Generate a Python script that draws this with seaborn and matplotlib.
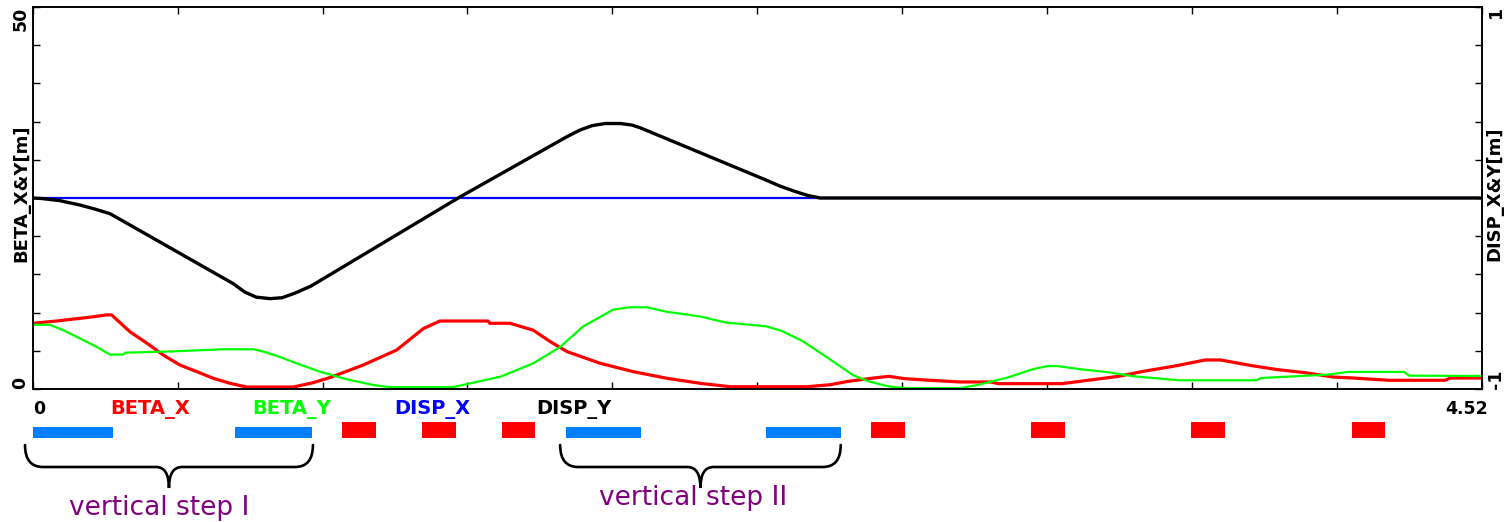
import numpy as np
import pandas as pd
import matplotlib
matplotlib.use("Agg")
import matplotlib.pyplot as plt
from matplotlib.path import Path
from matplotlib.patches import PathPatch
import matplotlib.transforms as mtransforms
import seaborn as sns

# ---------------- data ----------------
S_MAX = 4.52

beta_x_s = [0.0, 0.075, 0.116, 0.179, 0.231, 0.246, 0.303, 0.356, 0.407, 0.459,
            0.512, 0.563, 0.615, 0.667, 0.813, 0.875, 0.927, 1.031, 1.135, 1.218,
            1.270, 1.420, 1.426, 1.489, 1.561, 1.614, 1.666, 1.770, 1.873, 1.978,
            2.081, 2.175, 2.415, 2.487, 2.543, 2.623, 2.670, 2.718, 2.798, 2.892,
            2.988, 3.012, 3.210, 3.291, 3.386, 3.466, 3.561, 3.657, 3.705, 3.800,
            3.880, 3.975, 4.055, 4.118, 4.230, 4.405, 4.421, 4.52]
beta_x = [8.6, 8.9, 9.1, 9.4, 9.7, 9.7, 7.5, 6.0, 4.45, 3.14,
          2.27, 1.4, 0.75, 0.26, 0.26, 0.83, 1.5, 3.14, 5.1, 7.9,
          8.9, 8.9, 8.6, 8.6, 7.7, 6.2, 4.9, 3.36, 2.27, 1.4,
          0.75, 0.3, 0.3, 0.56, 1.0, 1.44, 1.66, 1.36, 1.14, 0.92,
          0.92, 0.7, 0.7, 1.14, 1.66, 2.33, 3.0, 3.8, 3.8, 3.07,
          2.55, 2.1, 1.57, 1.44, 1.14, 1.14, 1.44, 1.44]

beta_y_s = [0.0, 0.054, 0.095, 0.148, 0.200, 0.241, 0.283, 0.288, 0.439, 0.595,
            0.688, 0.719, 0.771, 0.823, 0.896, 0.979, 1.062, 1.114, 1.312, 1.354,
            1.458, 1.561, 1.645, 1.717, 1.811, 1.863, 1.915, 1.978, 2.081, 2.161,
            2.288, 2.336, 2.400, 2.479, 2.559, 2.607, 2.670, 2.718, 2.892, 2.941,
            3.036, 3.116, 3.164, 3.195, 3.275, 3.354, 3.434, 3.577, 3.816, 3.831,
            4.039, 4.103, 4.277, 4.293, 4.52]
beta_y = [8.4, 8.4, 7.7, 6.6, 5.5, 4.5, 4.5, 4.75, 4.93, 5.2,
          5.2, 4.9, 4.2, 3.36, 2.27, 1.27, 0.52, 0.25, 0.25, 0.65,
          1.6, 3.36, 5.5, 8.2, 10.4, 10.7, 10.7, 10.1, 9.5, 8.7,
          8.2, 7.6, 6.3, 4.1, 1.8, 1.0, 0.34, 0.12, 0.12, 0.47,
          1.44, 2.55, 3.0, 3.0, 2.55, 2.2, 1.66, 1.14, 1.14, 1.44,
          1.88, 2.24, 2.24, 1.75, 1.7]

disp_x_s = [0.0, 4.52]
disp_x = [0.0, 0.0]

disp_y_s = [0.0, 0.030, 0.085, 0.148, 0.194, 0.241, 0.625, 0.662, 0.697, 0.741,
            0.778, 0.818, 0.868, 1.333, 1.664, 1.707, 1.745, 1.786, 1.833, 1.869,
            1.897, 2.287, 2.331, 2.378, 2.418, 2.456, 4.52]
disp_y = [0.0, -0.003, -0.014, -0.037, -0.058, -0.082, -0.448, -0.493, -0.519, -0.527,
          -0.522, -0.498, -0.461, 0.006, 0.319, 0.356, 0.379, 0.390, 0.390, 0.382,
          0.366, 0.094, 0.062, 0.034, 0.013, 0.0, 0.0]

dipole_start = [0.0, 0.632, 1.663, 2.286]
dipole_end = [0.251, 0.870, 1.897, 2.521]
quad_start = [0.964, 1.213, 1.463, 2.616, 3.115, 3.614, 4.114]
quad_end = [1.070, 1.319, 1.568, 2.722, 3.221, 3.720, 4.218]

brace_left = [-0.024, 1.645]
brace_right = [0.874, 2.520]
group_labels = ["vertical step I", "vertical step II"]
group_label_s = [0.395, 2.060]

legend_labels = ["BETA_X", "BETA_Y", "DISP_X", "DISP_Y"]
legend_colors = ["#FF0000", "#00FF00", "#0000FF", "#000000"]

beta_ticks = list(range(0, 55, 5))
disp_ticks = list(np.round(np.linspace(-1, 1, 11), 2))

# ---------------- figure ----------------
sns.set_style("white")
plt.rcParams["font.family"] = ["DejaVu Sans"]
plt.rcParams["text.color"] = "black"

W_PX, H_PX = 1507, 522
fig = plt.figure(figsize=(W_PX / 100, H_PX / 100), dpi=100)

ax_l, ax_r, ax_t, ax_b = 32.7, 1482.0, 7.0, 389.0
ax = fig.add_axes([ax_l / W_PX, 1 - ax_b / H_PX, (ax_r - ax_l) / W_PX, (ax_b - ax_t) / H_PX])
ax2 = ax.twinx()

sns.lineplot(x=beta_x_s, y=beta_x, ax=ax, color="#FF0000", lw=2.3,
             estimator=None, sort=False)
sns.lineplot(x=beta_y_s, y=beta_y, ax=ax, color="#00FF00", lw=1.6,
             estimator=None, sort=False)
sns.lineplot(x=disp_x_s, y=disp_x, ax=ax2, color="#0000FF", lw=1.6,
             estimator=None, sort=False)
sns.lineplot(x=disp_y_s, y=disp_y, ax=ax2, color="#000000", lw=2.4,
             estimator=None, sort=False)

ax.set_xlim(0, S_MAX)
ax.set_ylim(0, 50)
ax2.set_ylim(-1, 1)
ax.set_xticks(np.linspace(0, S_MAX, 11))
ax.set_yticks(beta_ticks)
ax2.set_yticks(disp_ticks)
ax.tick_params(direction="in", length=5, width=1, colors="black",
               top=True, bottom=True, left=True, right=False,
               labelleft=False, labelbottom=False)
ax2.tick_params(direction="in", length=5, width=1, colors="black",
                right=True, labelright=False)
ax.set_xlabel("")
ax.set_ylabel("")
ax2.set_ylabel("")
for a in (ax, ax2):
    for sp in a.spines.values():
        sp.set_visible(True)
        sp.set_color("black")
        sp.set_linewidth(1.2)

# end tick labels (rotated)
lbl_kw = dict(fontsize=12.5, fontweight="bold", rotation=90, color="black")
fx_left = 20.5 / W_PX
fx_right = 1496.0 / W_PX
trl = mtransforms.blended_transform_factory(fig.transFigure, ax.transData)
trr = mtransforms.blended_transform_factory(fig.transFigure, ax2.transData)
ax.text(fx_left, 50, "50", transform=trl, ha="center", va="top", **lbl_kw)
ax.text(fx_left, 0, "0", transform=trl, ha="center", va="bottom", **lbl_kw)
ax2.text(fx_right, 1, "1", transform=trr, ha="center", va="top", **lbl_kw)
ax2.text(fx_right, -1, "-1", transform=trr, ha="center", va="bottom", **lbl_kw)

fig.text(21.5 / W_PX, 1 - 193 / H_PX, "BETA_X&Y[m]", rotation=90, ha="center",
         va="center", fontsize=13, fontweight="bold", color="black")
fig.text(1494.0 / W_PX, 1 - 194 / H_PX, "DISP_X&Y[m]", rotation=90, ha="center",
         va="center", fontsize=13, fontweight="bold", color="black")

# ---------------- element strip ----------------
strip_top = 390.0
st = fig.add_axes([ax_l / W_PX, 0, (ax_r - ax_l) / W_PX, (H_PX - strip_top) / H_PX])
st.set_xlim(0, S_MAX)
st.set_ylim(H_PX, strip_top)
st.axis("off")

dip_w = [e - s for s, e in zip(dipole_start, dipole_end)]
quad_w = [e - s for s, e in zip(quad_start, quad_end)]
st.barh(y=[432.5] * len(dipole_start), width=dip_w, left=dipole_start, height=11.6,
        color="#0080FF", edgecolor="none", clip_on=False)
st.barh(y=[430.3] * len(quad_start), width=quad_w, left=quad_start, height=16,
        color="#FF0000", edgecolor="none", clip_on=False)

# axis end labels + legend text
st.text(0, 414, "0", ha="left", va="baseline", fontsize=12.5, fontweight="bold",
        color="black")
st.annotate("4.52", xy=(S_MAX, 414), xytext=(6, 0), textcoords="offset pixels",
            ha="right", va="baseline", fontsize=12.5, fontweight="bold",
            color="black", annotation_clip=False)
trs = mtransforms.blended_transform_factory(st.transAxes, st.transData)
for i, (lab, col) in enumerate(zip(legend_labels, legend_colors)):
    st.text(0.081 + i * 0.0975, 414, lab, transform=trs, ha="center", va="baseline",
            fontsize=14, fontweight="bold", color=col)

# braces
px_per_s = (ax_r - ax_l) / S_MAX
r_end = 18 / px_per_s
r_mid = 13 / px_per_s
y0, y1, y2 = 445.0, 467.0, 488.0
for L, R in zip(brace_left, brace_right):
    M = 0.5 * (L + R)
    verts = [(L, y0), (L, y1), (L + r_end, y1),
             (M - r_mid, y1),
             (M, y1), (M, y2),
             (M, y1), (M + r_mid, y1),
             (R - r_end, y1),
             (R, y1), (R, y0)]
    codes = [Path.MOVETO, Path.CURVE3, Path.CURVE3,
             Path.LINETO,
             Path.CURVE3, Path.CURVE3,
             Path.CURVE3, Path.CURVE3,
             Path.LINETO,
             Path.CURVE3, Path.CURVE3]
    st.add_patch(PathPatch(Path(verts, codes), fill=False, lw=1.9,
                           edgecolor="black", clip_on=False, capstyle="round"))

for s, lab, base in zip(group_label_s, group_labels, [515, 505]):
    st.text(s, base, lab, ha="center", va="baseline", fontsize=19, color="#800080")

fig.savefig("out.png", dpi=100)
